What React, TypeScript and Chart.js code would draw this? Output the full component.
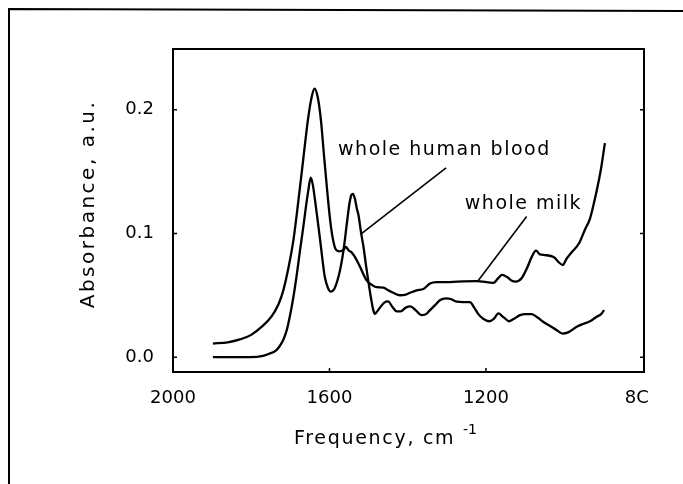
import { useEffect, useRef } from 'react';
import { Chart, registerables } from 'chart.js';

Chart.register(...registerables);

// ---- data ----
const milkFreq = [1898, 1860, 1829, 1800, 1773, 1748, 1730, 1718, 1705, 1692, 1680, 1667, 1655, 1645, 1638, 1630, 1622, 1614, 1606, 1598, 1591, 1584, 1575, 1565, 1558, 1550, 1543, 1535, 1522, 1505, 1490, 1479, 1462, 1450, 1437, 1420, 1405, 1394, 1377, 1360, 1343, 1326, 1292, 1258, 1224, 1181, 1168, 1159, 1145, 1135, 1124, 1109, 1095, 1083, 1072, 1062, 1050, 1026, 1015, 1004, 994, 983, 962, 947, 934, 920, 906, 896];
const milkAbs = [0.011, 0.012, 0.0143, 0.018, 0.0246, 0.033, 0.043, 0.054, 0.072, 0.095, 0.125, 0.16, 0.192, 0.211, 0.217, 0.21, 0.192, 0.163, 0.135, 0.11, 0.095, 0.087, 0.0855, 0.0865, 0.089, 0.086, 0.0845, 0.081, 0.073, 0.062, 0.058, 0.0565, 0.0562, 0.054, 0.052, 0.05, 0.0505, 0.052, 0.054, 0.055, 0.0595, 0.0607, 0.0607, 0.0613, 0.0615, 0.06, 0.064, 0.0665, 0.0645, 0.062, 0.061, 0.0637, 0.072, 0.081, 0.086, 0.083, 0.0825, 0.0807, 0.077, 0.0745, 0.0795, 0.084, 0.092, 0.103, 0.112, 0.13, 0.152, 0.173];

const bloodFreq = [1898, 1850, 1803, 1770, 1752, 1738, 1727, 1718, 1709, 1700, 1692, 1683, 1675, 1667, 1660, 1654, 1648, 1643, 1637, 1630, 1624, 1618, 1612, 1604, 1597, 1588, 1577, 1570, 1563, 1556, 1549, 1544, 1540, 1535, 1530, 1526, 1519, 1513, 1507, 1501, 1494, 1488, 1484, 1478, 1471, 1460, 1450, 1440, 1428, 1418, 1405, 1393, 1380, 1364, 1352, 1343, 1330, 1318, 1302, 1290, 1275, 1258, 1241, 1230, 1220, 1207, 1192, 1180, 1168, 1158, 1150, 1142, 1128, 1113, 1098, 1083, 1068, 1054, 1035, 1020, 1004, 990, 968, 950, 934, 917, 905, 898];
const bloodAbs = [0.0, 0.0, 0.0, 0.001, 0.003, 0.005, 0.009, 0.014, 0.022, 0.035, 0.049, 0.068, 0.087, 0.105, 0.122, 0.135, 0.145, 0.14, 0.127, 0.11, 0.095, 0.079, 0.065, 0.056, 0.053, 0.055, 0.065, 0.075, 0.089, 0.107, 0.124, 0.131, 0.132, 0.128, 0.12, 0.115, 0.1, 0.089, 0.075, 0.062, 0.048, 0.038, 0.035, 0.037, 0.04, 0.044, 0.045, 0.041, 0.037, 0.037, 0.04, 0.041, 0.038, 0.034, 0.035, 0.038, 0.042, 0.046, 0.0475, 0.047, 0.0448, 0.0445, 0.0445, 0.04, 0.035, 0.031, 0.029, 0.031, 0.0354, 0.033, 0.031, 0.029, 0.031, 0.034, 0.0348, 0.0348, 0.032, 0.0286, 0.025, 0.022, 0.019, 0.02, 0.0245, 0.027, 0.029, 0.0326, 0.035, 0.038];

const xTickValues = [2000, 1600, 1200, 800];
const xTickLabels = ['2000', '1600', '1200', '8C  '];
const yTickValues = [0, 0.1, 0.2];
const yTickLabels = ['0.0', '0.1', '0.2'];

const seriesLabels = ['whole human blood', 'whole milk'];
// pointer lines: [fromFreq, fromAbs, toFreq, toAbs]
const bloodPointer = [1302, 0.153, 1519, 0.0996];
const milkPointer = [1096, 0.1136, 1222, 0.061];
// label anchors (left, baseline): [freq, abs]
const bloodLabelAt = [1578, 0.1636];
const milkLabelAt = [1254, 0.1196];

const xTitle = 'Frequency, cm';
const xTitleSup = '-1';
const yTitle = 'Absorbance, a.u.';

const FONT = '"DejaVu Sans", sans-serif';

const decorPlugin = {
  id: 'decor',
  afterDraw(chart: any) {
    const { ctx, chartArea, scales } = chart;
    const xs = scales.x;
    const ys = scales.y;
    ctx.save();
    ctx.strokeStyle = '#000';
    ctx.fillStyle = '#000';

    // outer frame (scan border)
    ctx.lineWidth = 2;
    ctx.beginPath();
    ctx.moveTo(9, 484);
    ctx.lineTo(9, 9);
    ctx.lineTo(683, 11);
    ctx.stroke();

    // plot box
    ctx.lineWidth = 2;
    ctx.strokeRect(chartArea.left, chartArea.top, chartArea.right - chartArea.left, chartArea.bottom - chartArea.top);

    // inward ticks
    ctx.lineWidth = 1.5;
    ctx.beginPath();
    yTickValues.forEach((v) => {
      const py = ys.getPixelForValue(v);
      ctx.moveTo(chartArea.left, py);
      ctx.lineTo(chartArea.left + 4, py);
      ctx.moveTo(chartArea.right, py);
      ctx.lineTo(chartArea.right - 4, py);
    });
    xTickValues.slice(1, 3).forEach((v) => {
      const px = xs.getPixelForValue(v);
      ctx.moveTo(px, chartArea.bottom);
      ctx.lineTo(px, chartArea.bottom - 4);
    });
    ctx.stroke();

    // pointer lines
    ctx.lineWidth = 1.6;
    [bloodPointer, milkPointer].forEach((p) => {
      ctx.beginPath();
      ctx.moveTo(xs.getPixelForValue(p[0]), ys.getPixelForValue(p[1]));
      ctx.lineTo(xs.getPixelForValue(p[2]), ys.getPixelForValue(p[3]));
      ctx.stroke();
    });

    // series labels
    ctx.font = `19px ${FONT}`;
    (ctx as any).letterSpacing = '1.5px';
    ctx.textAlign = 'left';
    ctx.textBaseline = 'alphabetic';
    ctx.fillText(seriesLabels[0], xs.getPixelForValue(bloodLabelAt[0]), ys.getPixelForValue(bloodLabelAt[1]));
    ctx.fillText(seriesLabels[1], xs.getPixelForValue(milkLabelAt[0]), ys.getPixelForValue(milkLabelAt[1]));

    // x title with superscript
    ctx.font = `19px ${FONT}`;
    (ctx as any).letterSpacing = '1.7px';
    ctx.fillText(xTitle, 294, 444);
    ctx.font = `14px ${FONT}`;
    (ctx as any).letterSpacing = '0px';
    ctx.fillText(xTitleSup, 463, 434);

    // y title
    ctx.font = `20px ${FONT}`;
    (ctx as any).letterSpacing = '2.5px';
    ctx.translate(94, 204);
    ctx.rotate(-Math.PI / 2);
    ctx.textAlign = 'center';
    ctx.fillText(yTitle, 0, 0);
    ctx.restore();
  },
};

export default function App() {
  const ref = useRef<HTMLCanvasElement>(null);
  useEffect(() => {
    if (!ref.current) return;
    const chart = new Chart(ref.current, {
      type: 'line',
      data: {
        datasets: [
          {
            label: seriesLabels[0],
            data: bloodFreq.map((f, i) => ({ x: f, y: bloodAbs[i] })),
            borderColor: '#000',
            borderWidth: 2.3,
            pointRadius: 0,
            cubicInterpolationMode: 'monotone',
            fill: false,
          },
          {
            label: seriesLabels[1],
            data: milkFreq.map((f, i) => ({ x: f, y: milkAbs[i] })),
            borderColor: '#000',
            borderWidth: 2.3,
            pointRadius: 0,
            cubicInterpolationMode: 'monotone',
            fill: false,
          },
        ],
      },
      options: {
        animation: false,
        responsive: false,
        maintainAspectRatio: false,
        layout: { padding: { left: 0, right: 39, top: 49, bottom: 0 } },
        plugins: { legend: { display: false }, tooltip: { enabled: false } },
        scales: {
          x: {
            type: 'linear',
            reverse: true,
            min: 796,
            max: 2000,
            grid: { display: false, drawTicks: false },
            border: { display: false },
            afterBuildTicks: (s: any) => {
              s.ticks = xTickValues.map((v) => ({ value: v }));
            },
            afterFit: (s: any) => {
              s.height = 112;
            },
            ticks: {
              padding: 16,
              color: '#000',
              font: { family: FONT, size: 18 },
              maxRotation: 0,
              autoSkip: false,
              callback: (_v: any, i: number) => xTickLabels[i],
            },
          },
          y: {
            type: 'linear',
            min: -0.012,
            max: 0.249,
            grid: { display: false, drawTicks: false },
            border: { display: false },
            afterBuildTicks: (s: any) => {
              s.ticks = yTickValues.map((v) => ({ value: v }));
            },
            afterFit: (s: any) => {
              s.width = 173;
            },
            ticks: {
              padding: 19,
              color: '#000',
              font: { family: FONT, size: 18 },
              autoSkip: false,
              callback: (_v: any, i: number) => yTickLabels[i],
            },
          },
        },
      },
      plugins: [decorPlugin],
    });
    return () => chart.destroy();
  }, []);
  return (
    <div style={{ position: 'fixed', left: 0, top: 0, width: 683, height: 484, background: '#fff' }}>
      <canvas ref={ref} width={683} height={484} style={{ width: 683, height: 484, display: 'block' }} />
    </div>
  );
}
